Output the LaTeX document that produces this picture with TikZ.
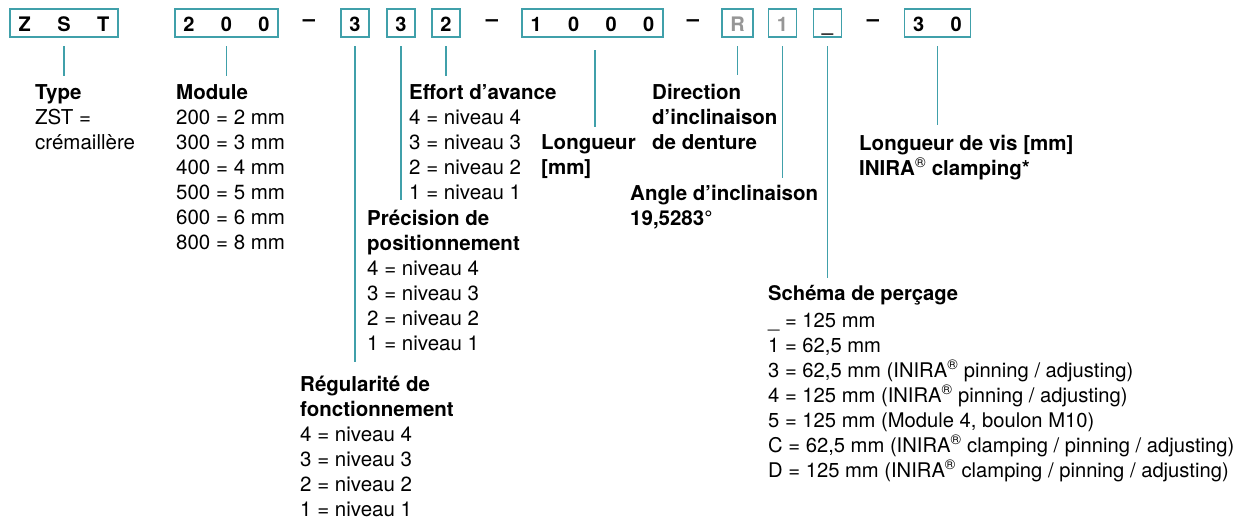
\documentclass[tikz,border=0pt]{standalone}
\usepackage{fontspec}
\setmainfont{TeX Gyre Heros}
\usetikzlibrary{calc}
\definecolor{tealline}{RGB}{64,160,170}
\definecolor{greychar}{RGB}{150,150,150}
\newcommand\cgap{\hspace{26.4pt}}
\begin{document}
\begin{tikzpicture}[x=1pt,y=-1pt,
  codebox/.style={draw=tealline, line width=1.5pt, inner xsep=8.5pt, inner ysep=0pt,
    minimum height=28pt, font=\fontsize{20}{24}\selectfont\bfseries,
    text height=17pt, text depth=0pt},
  conn/.style={draw=tealline, line width=1.6pt},
  desc/.style={anchor=north west, inner sep=0pt, align=left,
    font=\fontsize{20.5}{25}\selectfont},
  sep/.style={font=\fontsize{22}{24}\selectfont\bfseries, inner sep=0pt}
]
\useasboundingbox (0,0) rectangle (1237,519);

% code boxes
\node[codebox] (bZST) at (64,23) {Z\cgap S\cgap T};
\node[codebox] (b200) at (226.5,23) {2\cgap 0\cgap 0};
\node[sep] (d1) at (309,23) {–};
\node[codebox] (b3a) at (355,23) {3};
\node[codebox] (b3b) at (401,23) {3};
\node[codebox] (b2) at (446,23) {2};
\node[sep] (d2) at (492,23) {–};
\node[codebox] (b1000) at (592.5,23) {1\cgap 0\cgap 0\cgap 0};
\node[sep] (d3) at (693,23) {–};
\node[codebox, text=greychar] (bR) at (737.5,23) {R};
\node[codebox, text=greychar] (b1) at (782.5,23) {1};
\node[codebox] (bU) at (827.5,23) {\_};
\node[sep] (d4) at (873,23) {–};
\node[codebox] (b30) at (937.5,23) {3\cgap 0};

% descriptions
\node[desc] (tType) at (35,84) {\textbf{Type}\\ZST =\\crémaillère};
\node[desc] (tModule) at (176,84) {\textbf{Module}\\200 = 2 mm\\300 = 3 mm\\400 = 4 mm\\500 = 5 mm\\600 = 6 mm\\800 = 8 mm};
\node[desc] (tEffort) at (409,84) {\textbf{Effort d’avance}\\4 = niveau 4\\3 = niveau 3\\2 = niveau 2\\1 = niveau 1};
\node[desc] (tPrec) at (367,210) {\textbf{Précision de}\\\textbf{positionnement}\\4 = niveau 4\\3 = niveau 3\\2 = niveau 2\\1 = niveau 1};
\node[desc] (tReg) at (300,376) {\textbf{Régularité de}\\\textbf{fonctionnement}\\4 = niveau 4\\3 = niveau 3\\2 = niveau 2\\1 = niveau 1};
\node[desc] (tLong) at (541,134) {\textbf{Longueur}\\\textbf{[mm]}};
\node[desc] (tDir) at (652,84) {\textbf{Direction}\\\textbf{d’inclinaison}\\\textbf{de denture}};
\node[desc] (tAngle) at (630,185) {\textbf{Angle d’inclinaison}\\\textbf{19,5283°}};
\node[desc] (tVis) at (859,135) {\textbf{Longueur de vis [mm]}\\\textbf{INIRA\textsuperscript{\mdseries ®} clamping*}};
\node[desc, font=\fontsize{20.2}{25}\selectfont] (tSch) at (768,285) {\textbf{Schéma de perçage}\\[2pt]\_ = 125 mm\\1 = 62,5 mm\\3 = 62,5 mm (INIRA\textsuperscript{®} pinning / adjusting)\\4 = 125 mm (INIRA\textsuperscript{®} pinning / adjusting)\\5 = 125 mm (Module 4, boulon M10)\\C = 62,5 mm (INIRA\textsuperscript{®} clamping / pinning / adjusting)\\D = 125 mm (INIRA\textsuperscript{®} clamping / pinning / adjusting)};

% connectors
\draw[conn] ([yshift=-8.5pt]bZST.south) -- ($(bZST.south |- tType.north)+(0,8pt)$);
\draw[conn] ([yshift=-8.5pt]b200.south) -- ($(b200.south |- tModule.north)+(0,8pt)$);
\draw[conn] ([yshift=-8.5pt]b3a.south) -- ($(b3a.south |- tReg.north)+(0,14pt)$);
\draw[conn] ([yshift=-8.5pt]b3b.south) -- ($(b3b.south |- tPrec.north)+(0,10pt)$);
\draw[conn] ([yshift=-8.5pt]b2.south) -- ($(b2.south |- tEffort.north)+(0,8pt)$);
\draw[conn] ([xshift=2.5pt,yshift=-12.5pt]b1000.south) -- ($(b1000.south |- tLong.north)+(2.5pt,7pt)$);
\draw[conn] ([yshift=-8.5pt]bR.south) -- ($(bR.south |- tDir.north)+(0,9pt)$);
\draw[conn] ([yshift=-8.5pt]b1.south) -- ($(b1.south |- tAngle.north)+(0,7pt)$);
\draw[conn] ([yshift=-8.5pt]bU.south) -- ($(bU.south |- tSch.north)+(0,7pt)$);
\draw[conn] ([yshift=-8.5pt]b30.south) -- ($(b30.south |- tVis.north)+(0,10pt)$);
\end{tikzpicture}
\end{document}
